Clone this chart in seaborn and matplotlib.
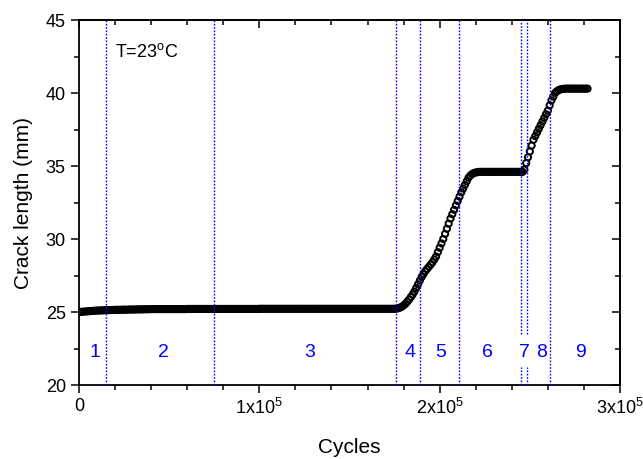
import numpy as np
import pandas as pd
import matplotlib
matplotlib.use("Agg")
import matplotlib.pyplot as plt
import seaborn as sns
from matplotlib.ticker import MultipleLocator, FixedLocator

# Fatigue crack growth record, one reading per 1000 cycles
cycles_k = [
    0, 1, 2, 3, 4, 5, 6, 7, 8, 9, 10, 11, 12, 13, 14, 15, 16, 17, 18, 19,
    20, 21, 22, 23, 24, 25, 26, 27, 28, 29, 30, 31, 32, 33, 34, 35, 36, 37, 38, 39,
    40, 41, 42, 43, 44, 45, 46, 47, 48, 49, 50, 51, 52, 53, 54, 55, 56, 57, 58, 59,
    60, 61, 62, 63, 64, 65, 66, 67, 68, 69, 70, 71, 72, 73, 74, 75, 76, 77, 78, 79,
    80, 81, 82, 83, 84, 85, 86, 87, 88, 89, 90, 91, 92, 93, 94, 95, 96, 97, 98, 99,
    100, 101, 102, 103, 104, 105, 106, 107, 108, 109, 110, 111, 112, 113, 114, 115, 116, 117, 118, 119,
    120, 121, 122, 123, 124, 125, 126, 127, 128, 129, 130, 131, 132, 133, 134, 135, 136, 137, 138, 139,
    140, 141, 142, 143, 144, 145, 146, 147, 148, 149, 150, 151, 152, 153, 154, 155, 156, 157, 158, 159,
    160, 161, 162, 163, 164, 165, 166, 167, 168, 169, 170, 171, 172, 173, 174, 175, 176, 177, 178, 179,
    180, 181, 182, 183, 184, 185, 186, 187, 188, 189, 190, 191, 192, 193, 194, 195, 196, 197, 198, 199,
    200, 201, 202, 203, 204, 205, 206, 207, 208, 209, 210, 211, 212, 213, 214, 215, 216, 217, 218, 219,
    220, 221, 222, 223, 224, 225, 226, 227, 228, 229, 230, 231, 232, 233, 234, 235, 236, 237, 238, 239,
    240, 241, 242, 243, 244, 245, 246, 247, 248, 249, 250, 251, 252, 253, 254, 255, 256, 257, 258, 259,
    260, 261, 262, 263, 264, 265, 266, 267, 268, 269, 270, 271, 272, 273, 274, 275, 276, 277, 278, 279,
    280, 281, 282,
]
crack_mm = [
    25.00, 25.01, 25.02, 25.03, 25.04, 25.05, 25.06, 25.07, 25.08, 25.09, 25.10, 25.10, 25.11, 25.11, 25.12, 25.12, 25.13, 25.13, 25.14, 25.14,
    25.15, 25.15, 25.15, 25.15, 25.16, 25.16, 25.16, 25.16, 25.17, 25.17, 25.17, 25.17, 25.18, 25.18, 25.18, 25.18, 25.19, 25.19, 25.19, 25.19,
    25.20, 25.20, 25.20, 25.20, 25.20, 25.20, 25.20, 25.20, 25.20, 25.20, 25.20, 25.20, 25.20, 25.20, 25.20, 25.20, 25.20, 25.20, 25.20, 25.20,
    25.21, 25.21, 25.21, 25.21, 25.21, 25.21, 25.21, 25.21, 25.21, 25.21, 25.21, 25.21, 25.21, 25.21, 25.21, 25.21, 25.21, 25.21, 25.21, 25.21,
    25.21, 25.21, 25.21, 25.21, 25.21, 25.21, 25.21, 25.21, 25.21, 25.21, 25.21, 25.21, 25.21, 25.21, 25.21, 25.21, 25.21, 25.21, 25.21, 25.21,
    25.22, 25.22, 25.22, 25.22, 25.22, 25.22, 25.22, 25.22, 25.22, 25.22, 25.22, 25.22, 25.22, 25.22, 25.22, 25.22, 25.22, 25.22, 25.22, 25.22,
    25.22, 25.22, 25.22, 25.22, 25.22, 25.22, 25.22, 25.22, 25.22, 25.22, 25.22, 25.22, 25.22, 25.22, 25.22, 25.22, 25.22, 25.22, 25.22, 25.22,
    25.22, 25.22, 25.22, 25.22, 25.22, 25.22, 25.22, 25.22, 25.22, 25.22, 25.22, 25.22, 25.22, 25.22, 25.22, 25.22, 25.22, 25.22, 25.22, 25.22,
    25.22, 25.22, 25.22, 25.22, 25.22, 25.22, 25.22, 25.22, 25.22, 25.22, 25.22, 25.22, 25.22, 25.22, 25.22, 25.22, 25.23, 25.26, 25.30, 25.36,
    25.45, 25.56, 25.70, 25.85, 26.02, 26.20, 26.40, 26.65, 26.90, 27.15, 27.40, 27.60, 27.80, 27.95, 28.10, 28.25, 28.40, 28.60, 28.80, 29.10,
    29.40, 29.70, 30.00, 30.35, 30.70, 31.05, 31.40, 31.70, 32.00, 32.30, 32.60, 32.90, 33.20, 33.45, 33.70, 33.95, 34.20, 34.35, 34.45, 34.52,
    34.56, 34.58, 34.60, 34.60, 34.60, 34.60, 34.60, 34.60, 34.60, 34.60, 34.60, 34.60, 34.60, 34.60, 34.60, 34.60, 34.60, 34.60, 34.60, 34.60,
    34.60, 34.60, 34.60, 34.60, 34.60, 34.60, 34.60, 34.75, 35.20, 35.60, 36.00, 36.40, 36.80, 37.05, 37.30, 37.55, 37.80, 38.05, 38.30, 38.55,
    38.80, 39.15, 39.50, 39.75, 40.00, 40.12, 40.20, 40.25, 40.28, 40.29, 40.30, 40.30, 40.30, 40.30, 40.30, 40.30, 40.30, 40.30, 40.30, 40.30,
    40.30, 40.30, 40.30,
]

# Stage boundaries (cycles) and stage labels
boundaries = [15000, 75000, 176000, 189000, 211000, 245000, 248500, 261000]
split_boundaries = [245000, 248500]
stage_names = ["1", "2", "3", "4", "5", "6", "7", "8", "9"]
stage_x = [8900, 46600, 128000, 183500, 200600, 226400, 246800, 256600, 278200]
stage_y = 22.2
temperature_label = "T=23$^{\\mathrm{o}}$C"

x_ticks = [0, 100000, 200000, 300000]
x_tick_labels = ["0", "1x10$^{5}$", "2x10$^{5}$", "3x10$^{5}$"]

sns.set_theme(style="white")
plt.rcParams["font.family"] = ["Liberation Sans", "DejaVu Sans"]
plt.rcParams["mathtext.fontset"] = "custom"
plt.rcParams["mathtext.rm"] = "Liberation Sans"
plt.rcParams["mathtext.default"] = "regular"

df = pd.DataFrame({"Cycles": np.array(cycles_k) * 1000, "Crack": crack_mm})

fig = plt.figure(figsize=(6.43, 4.59), dpi=100)
ax = fig.add_axes([0.1229, 0.1612, 0.9642 - 0.1229, 0.9564 - 0.1612])

# Open circles drawn as outlines only, so overlapping readings merge into a solid trace
sns.scatterplot(data=df, x="Cycles", y="Crack", ax=ax, marker="o", s=20,
                facecolor="none", edgecolor="black", linewidth=1.4, zorder=2)

blue = "#0000ff"
dots = (0, (1.2, 1.2))
for b in boundaries:
    if b in split_boundaries:
        ax.vlines(b, 20, 21.2, colors=blue, linestyles=dots, linewidth=1.0, zorder=3)
        ax.vlines(b, 23.5, 45, colors=blue, linestyles=dots, linewidth=1.0, zorder=3)
    else:
        ax.vlines(b, 20, 45, colors=blue, linestyles=dots, linewidth=1.0, zorder=3)

for name, sx in zip(stage_names, stage_x):
    ax.text(sx, stage_y, name, color=blue, fontsize=14, ha="center", va="center")

ax.text(20000, 42.8, temperature_label, fontsize=13, ha="left", va="center", color="black")

ax.set_xlim(0, 300000)
ax.set_ylim(20, 45)
ax.xaxis.set_major_locator(FixedLocator(x_ticks))
ax.set_xticklabels(x_tick_labels)
ax.xaxis.set_minor_locator(MultipleLocator(20000))
ax.yaxis.set_major_locator(MultipleLocator(5))
ax.yaxis.set_minor_locator(MultipleLocator(2.5))

ax.set_xlabel("Cycles", fontsize=15, color="black")
ax.set_ylabel("Crack length (mm)", fontsize=15, color="black")
ax.xaxis.set_label_coords(0.5, -0.145)
ax.yaxis.set_label_coords(-0.085, 0.5)

for sp in ax.spines.values():
    sp.set_visible(True)
    sp.set_color("black")
    sp.set_linewidth(1.3)

ax.tick_params(which="both", direction="out", bottom=True, left=True, top=False, right=False,
               colors="black", labelsize=13, width=1.1)
ax.tick_params(which="major", length=6)
ax.tick_params(which="minor", length=3.5)

# Mirrored inward ticks on the top and right frame
top = ax.secondary_xaxis("top")
top.xaxis.set_major_locator(FixedLocator(x_ticks))
top.xaxis.set_minor_locator(MultipleLocator(20000))
top.tick_params(which="both", direction="in", labeltop=False, colors="black", width=1.1)
top.tick_params(which="major", length=6)
top.tick_params(which="minor", length=3.5)
top.spines["top"].set_linewidth(1.3)
right = ax.secondary_yaxis("right")
right.yaxis.set_major_locator(MultipleLocator(5))
right.yaxis.set_minor_locator(MultipleLocator(2.5))
right.tick_params(which="both", direction="in", labelright=False, colors="black", width=1.1)
right.tick_params(which="major", length=6)
right.tick_params(which="minor", length=3.5)
right.spines["right"].set_linewidth(1.3)

fig.savefig("out.png", dpi=100, facecolor="white")
